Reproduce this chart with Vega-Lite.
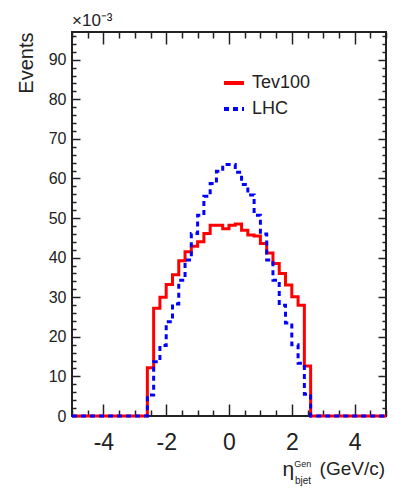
{
  "$schema": "https://vega.github.io/schema/vega-lite/v6.json",
  "autosize": "none",
  "width": 314,
  "height": 384,
  "padding": {"left": 72, "top": 32, "right": 8, "bottom": 72},
  "background": "white",
  "config": {
    "view": {"stroke": "#222", "strokeWidth": 2},
    "axis": {"domain": false, "grid": false, "tickColor": "#222", "tickWidth": 1.5, "labelFont": "Liberation Sans", "titleFont": "Liberation Sans", "labelColor": "#222", "titleColor": "#222", "titleFontWeight": "normal"},
    "text": {"font": "Liberation Sans", "color": "#222"}
  },
  "datasets": {
    "hist": [
      {"series": "Tev100", "x": -5.0, "y": 0},
      {"series": "Tev100", "x": -2.6, "y": 12.2},
      {"series": "Tev100", "x": -2.4, "y": 27.2},
      {"series": "Tev100", "x": -2.2, "y": 30.0},
      {"series": "Tev100", "x": -2.0, "y": 33.2},
      {"series": "Tev100", "x": -1.8, "y": 35.7},
      {"series": "Tev100", "x": -1.6, "y": 39.2},
      {"series": "Tev100", "x": -1.4, "y": 41.5},
      {"series": "Tev100", "x": -1.2, "y": 42.9},
      {"series": "Tev100", "x": -1.0, "y": 44.0},
      {"series": "Tev100", "x": -0.8, "y": 46.1},
      {"series": "Tev100", "x": -0.6, "y": 48.2},
      {"series": "Tev100", "x": -0.4, "y": 48.2},
      {"series": "Tev100", "x": -0.2, "y": 47.3},
      {"series": "Tev100", "x": 0.0, "y": 48.2},
      {"series": "Tev100", "x": 0.2, "y": 48.5},
      {"series": "Tev100", "x": 0.4, "y": 46.9},
      {"series": "Tev100", "x": 0.6, "y": 45.7},
      {"series": "Tev100", "x": 0.8, "y": 45.5},
      {"series": "Tev100", "x": 1.0, "y": 43.6},
      {"series": "Tev100", "x": 1.2, "y": 41.2},
      {"series": "Tev100", "x": 1.4, "y": 38.5},
      {"series": "Tev100", "x": 1.6, "y": 36.0},
      {"series": "Tev100", "x": 1.8, "y": 33.1},
      {"series": "Tev100", "x": 2.0, "y": 30.1},
      {"series": "Tev100", "x": 2.2, "y": 28.0},
      {"series": "Tev100", "x": 2.4, "y": 12.6},
      {"series": "Tev100", "x": 2.6, "y": 0},
      {"series": "Tev100", "x": 5.0, "y": 0},
      {"series": "LHC", "x": -5.0, "y": 0},
      {"series": "LHC", "x": -2.6, "y": 5.3},
      {"series": "LHC", "x": -2.4, "y": 13.7},
      {"series": "LHC", "x": -2.2, "y": 17.8},
      {"series": "LHC", "x": -2.0, "y": 23.8},
      {"series": "LHC", "x": -1.8, "y": 28.3},
      {"series": "LHC", "x": -1.6, "y": 34.3},
      {"series": "LHC", "x": -1.4, "y": 39.4},
      {"series": "LHC", "x": -1.2, "y": 46.1},
      {"series": "LHC", "x": -1.0, "y": 50.7},
      {"series": "LHC", "x": -0.8, "y": 55.5},
      {"series": "LHC", "x": -0.6, "y": 58.7},
      {"series": "LHC", "x": -0.4, "y": 61.8},
      {"series": "LHC", "x": -0.2, "y": 63.5},
      {"series": "LHC", "x": 0.0, "y": 63.5},
      {"series": "LHC", "x": 0.2, "y": 61.6},
      {"series": "LHC", "x": 0.4, "y": 58.5},
      {"series": "LHC", "x": 0.6, "y": 55.8},
      {"series": "LHC", "x": 0.8, "y": 50.7},
      {"series": "LHC", "x": 1.0, "y": 46.0},
      {"series": "LHC", "x": 1.2, "y": 39.4},
      {"series": "LHC", "x": 1.4, "y": 34.3},
      {"series": "LHC", "x": 1.6, "y": 28.0},
      {"series": "LHC", "x": 1.8, "y": 23.5},
      {"series": "LHC", "x": 2.0, "y": 18.0},
      {"series": "LHC", "x": 2.2, "y": 13.3},
      {"series": "LHC", "x": 2.4, "y": 5.5},
      {"series": "LHC", "x": 2.6, "y": 0},
      {"series": "LHC", "x": 5.0, "y": 0}
    ]
  },
  "layer": [
    {
      "layer": [
        {
          "data": {"name": "hist"},
          "transform": [{"filter": "datum.series === 'Tev100'"}],
          "mark": {"type": "line", "interpolate": "step-after", "strokeWidth": 3},
          "encoding": {
            "x": {"field": "x", "type": "quantitative", "scale": {"domain": [-5, 5], "nice": false, "zero": false},
              "axis": {"orient": "bottom", "title": null, "values": [-5,-4.5,-4,-3.5,-3,-2.5,-2,-1.5,-1,-0.5,0,0.5,1,1.5,2,2.5,3,3.5,4,4.5,5],
                "labelExpr": "datum.value % 2 === 0 ? (datum.value < 0 ? '-' + abs(datum.value) : '' + datum.value) : ''",
                "tickSize": {"condition": {"test": "datum.value % 2 === 0", "value": -12}, "value": -6},
                "labelFontSize": 23, "labelPadding": 14, "labelBaseline": "line-top", "labelLineHeight": 49, "labelFlush": false, "labelOverlap": false}},
            "y": {"field": "y", "type": "quantitative", "scale": {"domain": [0, 97], "nice": false},
              "axis": {"orient": "left", "title": "Events", "titleAnchor": "end", "titleFontSize": 20, "titlePadding": 12, "ticks": false,
                "values": [0,10,20,30,40,50,60,70,80,90],
                "labelFontSize": 16, "labelPadding": 6, "labelOverlap": false, "labelFlush": false}},
            "color": {"field": "series", "type": "nominal", "scale": {"domain": ["Tev100", "LHC"], "range": ["#ff0000", "#0000ff"]},
              "legend": {"orient": "none", "legendX": 150, "legendY": 39, "title": null, "symbolType": "stroke", "symbolSize": 400, "symbolStrokeWidth": 4, "labelFontSize": 18, "labelFont": "Liberation Sans", "labelColor": "#222", "rowPadding": 5, "padding": 0, "labelOffset": 6}},
            "strokeDash": {"field": "series", "type": "nominal", "scale": {"domain": ["Tev100", "LHC"], "range": [[1, 0], [5, 4]]},
              "legend": {"orient": "none", "legendX": 150, "legendY": 39, "title": null, "symbolType": "stroke", "symbolSize": 400, "symbolStrokeWidth": 4, "labelFontSize": 18, "labelFont": "Liberation Sans", "labelColor": "#222", "rowPadding": 5, "padding": 0, "labelOffset": 6}}
          }
        },
        {
          "data": {"name": "hist"},
          "transform": [{"filter": "datum.series === 'LHC'"}],
          "mark": {"type": "line", "interpolate": "step-after", "strokeWidth": 3},
          "encoding": {
            "x": {"field": "x", "type": "quantitative",
              "axis": {"orient": "top", "title": null, "labels": false, "values": [-5,-4.5,-4,-3.5,-3,-2.5,-2,-1.5,-1,-0.5,0,0.5,1,1.5,2,2.5,3,3.5,4,4.5,5],
                "tickSize": {"condition": {"test": "datum.value % 2 === 0", "value": -12}, "value": -6}}},
            "y": {"field": "y", "type": "quantitative",
              "axis": {"orient": "right", "title": null, "labels": false,
                "values": [0,2,4,6,8,10,12,14,16,18,20,22,24,26,28,30,32,34,36,38,40,42,44,46,48,50,52,54,56,58,60,62,64,66,68,70,72,74,76,78,80,82,84,86,88,90,92,94,96],
                "tickSize": {"condition": {"test": "datum.value % 10 === 0", "value": -8}, "value": -4}}},
            "color": {"field": "series", "type": "nominal"},
            "strokeDash": {"field": "series", "type": "nominal"}
          }
        },
        {
          "data": {"values": [{}]},
          "mark": {"type": "text", "text": "×10⁻³", "fontSize": 17, "align": "left", "baseline": "alphabetic"},
          "encoding": {
            "x": {"datum": -5, "type": "quantitative", "axis": null},
            "y": {"datum": 98.6, "type": "quantitative",
              "axis": {"orient": "left", "title": null, "labels": false,
                "values": [0,2,4,6,8,10,12,14,16,18,20,22,24,26,28,30,32,34,36,38,40,42,44,46,48,50,52,54,56,58,60,62,64,66,68,70,72,74,76,78,80,82,84,86,88,90,92,94,96],
                "tickSize": {"condition": {"test": "datum.value % 10 === 0", "value": -8}, "value": -4}}}
          }
        }
      ],
      "resolve": {"axis": {"x": "independent", "y": "independent"}}
    },
    {
      "data": {"values": [{}]},
      "mark": {"type": "text", "text": "η", "fontSize": 21, "align": "left", "baseline": "alphabetic"},
      "encoding": {"x": {"datum": 1.7, "type": "quantitative", "axis": null}, "y": {"datum": -15.2, "type": "quantitative", "axis": null}}
    },
    {
      "data": {"values": [{}]},
      "mark": {"type": "text", "text": "Gen", "fontSize": 9, "align": "left", "baseline": "alphabetic"},
      "encoding": {"x": {"datum": 2.08, "type": "quantitative", "axis": null}, "y": {"datum": -13.0, "type": "quantitative", "axis": null}}
    },
    {
      "data": {"values": [{}]},
      "mark": {"type": "text", "text": "bjet", "fontSize": 10, "align": "left", "baseline": "alphabetic"},
      "encoding": {"x": {"datum": 2.1, "type": "quantitative", "axis": null}, "y": {"datum": -17.3, "type": "quantitative", "axis": null}}
    },
    {
      "data": {"values": [{}]},
      "mark": {"type": "text", "text": "(GeV/c)", "fontSize": 19, "align": "right", "baseline": "alphabetic"},
      "encoding": {"x": {"datum": 4.97, "type": "quantitative", "axis": null}, "y": {"datum": -14.9, "type": "quantitative", "axis": null}}
    }
  ]
}
